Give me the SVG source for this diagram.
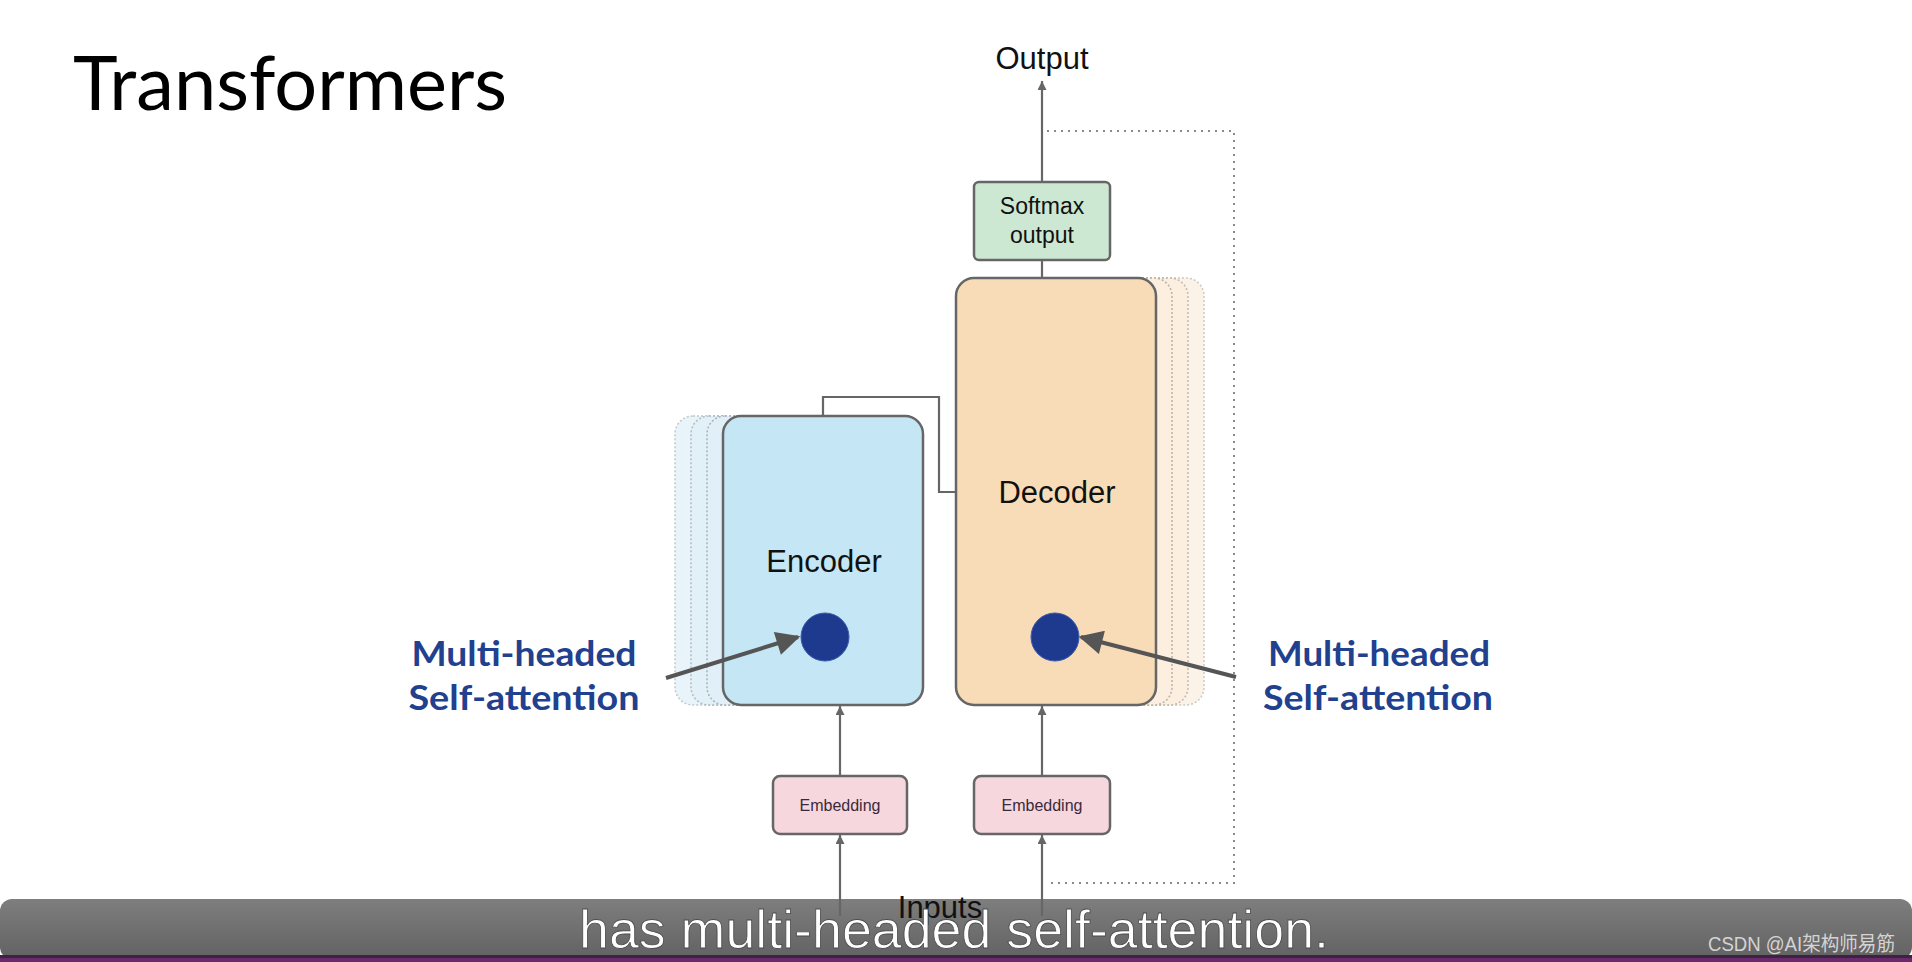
<svg xmlns="http://www.w3.org/2000/svg" width="1912" height="962" viewBox="0 0 1912 962">
<defs>
<style>
.box{stroke:#666;stroke-width:2.5}
.shE{fill:#e1f0f8;stroke:#a9b3b8;stroke-width:1.5;stroke-dasharray:2 2}
.shD{fill:#fcefdf;stroke:#b8b2aa;stroke-width:1.5;stroke-dasharray:2 2}
.lbl{font-family:"Liberation Sans",Arial,sans-serif;fill:#111;text-anchor:middle}
.mh{font-family:Lato,"Noto Sans",sans-serif;font-weight:bold;font-size:34px;fill:#21408e;text-anchor:middle}
.conn{stroke:#666;stroke-width:2.2;fill:none}
.ptr{stroke:#555;stroke-width:4;fill:none}
</style>
<linearGradient id="bar" x1="0" y1="0" x2="0" y2="1">
<stop offset="0" stop-color="#7e7e7e"/>
<stop offset="1" stop-color="#626262"/>
</linearGradient>
<marker id="ah" viewBox="0 0 10 10" refX="10" refY="5" markerWidth="10" markerHeight="9" markerUnits="userSpaceOnUse" orient="auto">
<path d="M0,0 L10,5 L0,10 z" fill="#666"/>
</marker>
<marker id="bh" viewBox="0 0 10 10" refX="9" refY="5" markerWidth="7" markerHeight="6" orient="auto">
<path d="M0,0 L10,5 L0,10 z" fill="#555"/>
</marker>
</defs>
<rect width="1912" height="962" fill="#fff"/>

<text id="title" x="73" y="110" font-family="Lato,'Noto Sans',sans-serif" font-size="76" fill="#000" textLength="434" lengthAdjust="spacingAndGlyphs">Transformers</text>

<g id="feedback">
<path d="M1047,131 H1234 V883 H1049" fill="none" stroke="#8a8a8a" stroke-width="2" stroke-dasharray="2 5"/>
</g>

<g id="encoder">
<rect class="shE" x="675" y="416" width="200" height="289" rx="18" opacity="0.7"/>
<rect class="shE" x="691" y="416" width="200" height="289" rx="18" opacity="0.85"/>
<rect class="shE" x="707" y="416" width="200" height="289" rx="18"/>
<rect class="box" x="723" y="416" width="200" height="289" rx="18" fill="#c5e6f4"/>
<text class="lbl" x="824" y="572" font-size="31">Encoder</text>
<circle cx="825" cy="637" r="24" fill="#1d3a8f" stroke="#3a5ab0" stroke-width="1"/>
</g>

<g id="decoder">
<rect class="shD" x="1004" y="278" width="200" height="427" rx="18" opacity="0.7"/>
<rect class="shD" x="988" y="278" width="200" height="427" rx="18" opacity="0.85"/>
<rect class="shD" x="972" y="278" width="200" height="427" rx="18"/>
<rect class="box" x="956" y="278" width="200" height="427" rx="18" fill="#f8dcb7"/>
<text class="lbl" x="1057" y="503" font-size="31">Decoder</text>
<circle cx="1055" cy="637" r="24" fill="#1d3a8f" stroke="#3a5ab0" stroke-width="1"/>
</g>

<g id="softmax">
<rect class="box" x="974" y="182" width="136" height="78" rx="5" fill="#cde8d2"/>
<text class="lbl" x="1042" y="214" font-size="23">Softmax</text>
<text class="lbl" x="1042" y="243" font-size="23">output</text>
</g>

<g id="output">
<text class="lbl" x="1042" y="69" font-size="31">Output</text>
</g>

<g id="embedding1">
<rect class="box" x="773" y="776" width="134" height="58" rx="7" fill="#f6d7de"/>
<text class="lbl" x="840" y="811" font-size="16" style="fill:#3a2a3a">Embedding</text>
</g>

<g id="embedding2">
<rect class="box" x="974" y="776" width="136" height="58" rx="7" fill="#f6d7de"/>
<text class="lbl" x="1042" y="811" font-size="16" style="fill:#3a2a3a">Embedding</text>
</g>

<g id="label-left">
<text class="mh" x="524" y="666" textLength="225" lengthAdjust="spacingAndGlyphs">Multi-headed</text>
<text class="mh" x="524" y="710" textLength="231" lengthAdjust="spacingAndGlyphs">Self-attention</text>
</g>
<g id="label-right">
<text class="mh" x="1379" y="666" textLength="222" lengthAdjust="spacingAndGlyphs">Multi-headed</text>
<text class="mh" x="1378" y="710" textLength="230" lengthAdjust="spacingAndGlyphs">Self-attention</text>
</g>

<g id="caption-bar">
<rect x="0" y="899" width="1912" height="60" rx="12" fill="url(#bar)"/>
<rect x="0" y="955" width="1912" height="3" fill="#3d2340"/>
<rect x="0" y="958" width="1912" height="4" fill="#6a2a6e"/>
</g>

<g id="connectors">
<line class="conn" x1="1042" y1="182" x2="1042" y2="81" marker-end="url(#ah)"/>
<line class="conn" x1="1042" y1="278" x2="1042" y2="260"/>
<path class="conn" d="M823,416 V397 H939 V492 H956"/>
<line class="conn" x1="840" y1="776" x2="840" y2="706" marker-end="url(#ah)"/>
<line class="conn" x1="1042" y1="776" x2="1042" y2="706" marker-end="url(#ah)"/>
<line class="conn" x1="840" y1="916" x2="840" y2="835" marker-end="url(#ah)"/>
<line class="conn" x1="1042" y1="916" x2="1042" y2="835" marker-end="url(#ah)"/>
<line class="ptr" x1="666" y1="678" x2="798" y2="637" marker-end="url(#bh)"/>
<line class="ptr" x1="1236" y1="677" x2="1081" y2="637" marker-end="url(#bh)"/>
</g>

<g id="inputs">
<text class="lbl" x="940" y="918" font-size="31">Inputs</text>
</g>

<g id="caption">
<text x="579" y="948" font-family="'Liberation Sans',Arial,sans-serif" font-size="53" fill="#fff" stroke="#4a4a4a" stroke-width="0.8" textLength="750" lengthAdjust="spacingAndGlyphs">has multi-headed self-attention.</text>
<text x="1708" y="951" font-family="'Liberation Sans','Noto Sans CJK SC',sans-serif" font-size="20" fill="#d4d4d4" textLength="187" lengthAdjust="spacingAndGlyphs">CSDN @AI架构师易筋</text>
</g>
</svg>
